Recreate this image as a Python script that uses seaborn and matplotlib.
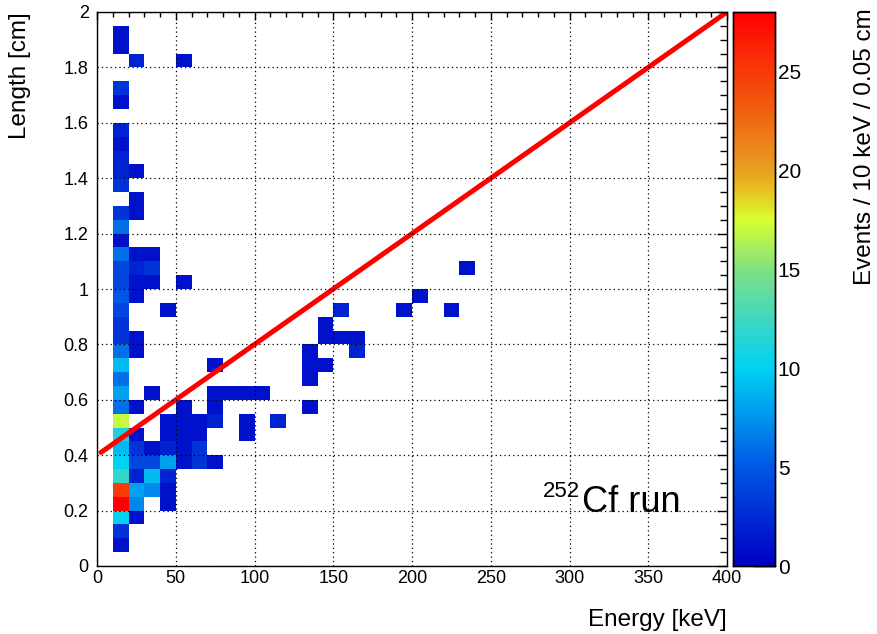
import numpy as np
import pandas as pd
import matplotlib
matplotlib.use("Agg")
import matplotlib.pyplot as plt
import seaborn as sns
from matplotlib.colors import LinearSegmentedColormap
from matplotlib.ticker import MultipleLocator

# ---------------- data ----------------
# counts per 10 keV x 0.05 cm cell; length bin index j -> [0.05*j, 0.05*(j+1))
col10_counts = [0, 1, 3, 10, 28, 25, 12, 10, 9, 11,
                17, 6, 8, 6, 9, 6, 3, 3, 4, 5,
                4, 4, 6, 1, 6, 3, 0, 3, 2, 2,
                1, 2, 0, 1, 3, 0, 0, 1, 1, 0]

# sparse cells for energy bins >= 20 keV (lower edge keV, length bin index, count)
cell_energy = ([20] * 18 + [30] * 8 + [40] * 8 + [50] * 7 + [60] * 4 + [70] * 5 +
               [80, 90, 90, 90, 100, 110, 130, 130, 130, 130, 140, 140, 140,
                150, 150, 160, 160, 190, 200, 220, 230])
cell_lenbin = ([3, 4, 5, 6, 7, 8, 9, 11, 15, 16, 19, 20, 21, 22, 25, 26, 28, 36] +
               [5, 6, 7, 8, 12, 20, 21, 22] +
               [4, 5, 6, 7, 8, 9, 10, 18] +
               [7, 8, 9, 10, 11, 20, 36] +
               [7, 8, 9, 10] +
               [7, 10, 11, 12, 14] +
               [12, 9, 10, 12, 12, 10, 11, 13, 14, 15, 14, 16, 17,
                16, 18, 15, 16, 18, 19, 18, 21])
cell_count = ([1, 7, 8, 2, 4, 3, 1, 1, 1, 1, 1, 1, 2, 1, 1, 1, 1, 2] +
              [7, 9, 4, 1, 1, 1, 3, 1] +
              [1, 1, 2, 8, 2, 1, 1, 1] +
              [1, 1, 1, 1, 1, 1, 1] +
              [3, 3, 1, 1] +
              [1, 2, 1, 1, 1] +
              [1, 1, 1, 1, 1, 2, 1, 1, 1, 1, 1, 1, 1,
               1, 2, 2, 1, 1, 1, 1, 1])

# cut line
cut_energy = [2.5, 400]
cut_length = [0.41, 2.0]

x_ticks = [0, 50, 100, 150, 200, 250, 300, 350, 400]
x_ticklabels = ["0", "50", "100", "150", "200", "250", "300", "350", "400"]
y_ticks = [0, 0.2, 0.4, 0.6, 0.8, 1.0, 1.2, 1.4, 1.6, 1.8, 2.0]
y_ticklabels = ["0", "0.2", "0.4", "0.6", "0.8", "1", "1.2", "1.4", "1.6", "1.8", "2"]
z_ticks = [0, 5, 10, 15, 20, 25]

# ---------------- build table ----------------
E_BIN, L_BIN = 10.0, 0.05
rows = []
for j, n in enumerate(col10_counts):
    if n > 0:
        rows.append((10 + E_BIN / 2, j * L_BIN + L_BIN / 2, n))
for e, j, n in zip(cell_energy, cell_lenbin, cell_count):
    rows.append((e + E_BIN / 2, j * L_BIN + L_BIN / 2, n))
df = pd.DataFrame(rows, columns=["energy", "length", "count"])

x_edges = np.arange(0, 400 + E_BIN / 2, E_BIN)
y_edges = np.linspace(0, 2.0, 41)

# ROOT-like rainbow palette
cmap = LinearSegmentedColormap.from_list("rootrainbow", [
    (0.00, "#0000c4"),
    (5 / 28, "#0058e6"),
    (10 / 28, "#00d2f2"),
    (12.5 / 28, "#40d8c0"),
    (15 / 28, "#80e080"),
    (17.5 / 28, "#d8ff30"),
    (19 / 28, "#e8c020"),
    (20 / 28, "#e8a020"),
    (23 / 28, "#f06010"),
    (25 / 28, "#f83a08"),
    (1.00, "#ff0000"),
])

# ---------------- figure ----------------
sns.set_theme(style="white")
plt.rcParams['font.family'] = ['Liberation Sans', 'DejaVu Sans']
plt.rcParams['text.color'] = 'black'
plt.rcParams['axes.labelcolor'] = 'black'

W, H = 877, 634
fig = plt.figure(figsize=(W / 100, H / 100), dpi=100)
ax = fig.add_axes([97 / W, (H - 566) / H, 630 / W, 554 / H])
cax = fig.add_axes([733 / W, (H - 566) / H, 42 / W, 554 / H])

sns.histplot(data=df, x="energy", y="length", weights="count",
             bins=[x_edges, y_edges], cmap=cmap, vmin=0, vmax=28,
             cbar=True, cbar_ax=cax, ax=ax, linewidth=0)

sns.lineplot(x=cut_energy, y=cut_length, ax=ax, color="red", linewidth=3.6)

ax.set_xlim(0, 400)
ax.set_ylim(0, 2)
ax.set_xticks(x_ticks)
ax.set_xticklabels(x_ticklabels)
ax.set_yticks(y_ticks)
ax.set_yticklabels(y_ticklabels)
ax.xaxis.set_minor_locator(MultipleLocator(10))
ax.yaxis.set_minor_locator(MultipleLocator(0.05))
ax.set_xlabel("")
ax.set_ylabel("")

ax.grid(True, which="major", color="black", linestyle=(0, (1, 2.5)), linewidth=0.9)
ax.set_axisbelow(False)

ax.tick_params(axis="both", which="both", direction="in", top=True, right=True,
               colors="black", labelsize=13, width=1)
ax.tick_params(axis="x", which="major", length=9, pad=3)
ax.tick_params(axis="x", which="minor", length=4.5)
ax.tick_params(axis="y", which="major", length=15, pad=6)
ax.tick_params(axis="y", which="minor", length=7.5)
for sp in ax.spines.values():
    sp.set_color("black")
    sp.set_linewidth(1)
    sp.set_visible(True)

# smaller ticks on top and right
for t in ax.xaxis.get_major_ticks():
    t.tick2line.set_markersize(6)
for t in ax.xaxis.get_minor_ticks():
    t.tick2line.set_markersize(3.5)
for t in ax.yaxis.get_major_ticks():
    t.tick2line.set_markersize(7)
for t in ax.yaxis.get_minor_ticks():
    t.tick2line.set_markersize(5)

# colorbar styling
cax.set_yticks(z_ticks)
cax.yaxis.set_ticks_position("right")
cax.tick_params(axis="y", which="major", direction="in", length=16, width=1,
                labelsize=15, pad=2, colors="black")
cax.minorticks_off()
for sp in cax.spines.values():
    sp.set_visible(True)
    sp.set_color("black")
    sp.set_linewidth(1)
try:
    cax.collections[0].colorbar.outline.set_edgecolor("black")
except Exception:
    pass

# axis titles
fig.text(727 / W, (H - 620) / H, "Energy [keV]", ha="right", va="center",
         fontsize=17.5, color="black")
fig.text(20 / W, (H - 12) / H, "Length [cm]", rotation=90, ha="center", va="top",
         fontsize=17.5, color="black")
fig.text(865 / W, (H - 8) / H, "Events / 10 keV / 0.05 cm", rotation=90,
         ha="center", va="top", fontsize=17.5, color="black")

# annotation
fig.text(543 / W, (H - 497) / H, "252", ha="left", va="baseline", fontsize=16, color="black")
fig.text(582 / W, (H - 512) / H, "Cf run", ha="left", va="baseline", fontsize=26, color="black")

fig.savefig("out.png", dpi=100)
